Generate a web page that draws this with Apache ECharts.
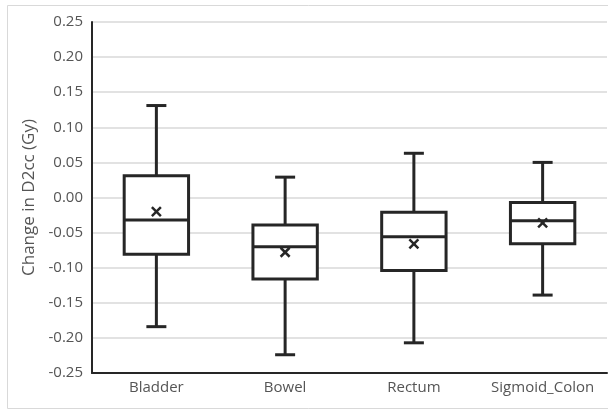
<!DOCTYPE html>
<html>
<head>
<meta charset="utf-8">
<script src="https://cdn.jsdelivr.net/npm/echarts@6/dist/echarts.min.js"></script>
<style>
  html, body { margin: 0; padding: 0; background: #fff; }
  #chart { width: 608px; height: 411px; }
</style>
</head>
<body>
<div id="chart"></div>
<script>
// Organ categories and box statistics of the D2cc change (Gy)
const categories = ['Bladder', 'Bowel', 'Rectum', 'Sigmoid_Colon'];
const whiskerLow  = [-0.184, -0.224, -0.207, -0.139];
const quartile1   = [-0.081, -0.116, -0.104, -0.066];
const medians     = [-0.032, -0.070, -0.056, -0.033];
const quartile3   = [ 0.031, -0.039, -0.021, -0.007];
const whiskerHigh = [ 0.131,  0.029,  0.063,  0.050];
const means       = [-0.020, -0.078, -0.066, -0.036];

const yMin = -0.25, yMax = 0.25, yStep = 0.05;

const boxData = categories.map((c, i) => [
  i, whiskerLow[i], quartile1[i], medians[i], quartile3[i], whiskerHigh[i], means[i]
]);

const INK = '#262626';
const TEXT = '#555555';
const FONT = '"Open Sans", sans-serif';

function renderBox(params, api) {
  const i = api.value(0);
  const cx = api.coord([i, 0])[0];
  const band = api.size([1, 0])[0];
  const boxW = band * 0.5;
  const capW = 20;
  const y = k => api.coord([i, api.value(k)])[1];
  const yLow = y(1), yQ1 = y(2), yMed = y(3), yQ3 = y(4), yHigh = y(5), yMean = y(6);
  const line = { stroke: INK, lineWidth: 3, lineCap: 'butt' };
  const m = 4.5;
  return {
    type: 'group',
    children: [
      { type: 'line', shape: { x1: cx, y1: yHigh, x2: cx, y2: yQ3 }, style: line },
      { type: 'line', shape: { x1: cx, y1: yQ1, x2: cx, y2: yLow }, style: line },
      { type: 'line', shape: { x1: cx - capW / 2, y1: yHigh, x2: cx + capW / 2, y2: yHigh }, style: line },
      { type: 'line', shape: { x1: cx - capW / 2, y1: yLow, x2: cx + capW / 2, y2: yLow }, style: line },
      { type: 'rect', shape: { x: cx - boxW / 2, y: yQ3, width: boxW, height: yQ1 - yQ3 },
        style: { fill: '#fff', stroke: INK, lineWidth: 3 } },
      { type: 'line', shape: { x1: cx - boxW / 2, y1: yMed, x2: cx + boxW / 2, y2: yMed }, style: line },
      { type: 'line', shape: { x1: cx - m, y1: yMean - m, x2: cx + m, y2: yMean + m },
        style: { stroke: INK, lineWidth: 2.5 } },
      { type: 'line', shape: { x1: cx - m, y1: yMean + m, x2: cx + m, y2: yMean - m },
        style: { stroke: INK, lineWidth: 2.5 } }
    ]
  };
}

const chart = echarts.init(document.getElementById('chart'), null, { renderer: 'canvas' });
chart.setOption({
  animation: false,
  backgroundColor: '#fff',
  graphic: [{
    type: 'rect',
    shape: { x: 7.5, y: 5.5, width: 620, height: 403 },
    style: { fill: null, stroke: '#d9d9d9', lineWidth: 1 },
    silent: true,
    z: -10
  }],
  grid: { left: 92, right: 1, top: 22, bottom: 38 },
  xAxis: {
    type: 'category',
    data: categories,
    boundaryGap: true,
    axisTick: { show: false },
    axisLine: { onZero: false, lineStyle: { color: INK, width: 2 } },
    axisLabel: { color: TEXT, fontFamily: FONT, fontSize: 15, margin: 7, interval: 0 },
    splitLine: { show: false }
  },
  yAxis: {
    type: 'value',
    min: yMin,
    max: yMax,
    interval: yStep,
    name: 'Change in D2cc (Gy)',
    nameLocation: 'middle',
    nameGap: 54,
    nameTextStyle: { color: TEXT, fontFamily: FONT, fontSize: 17 },
    axisLine: { show: true, lineStyle: { color: INK, width: 2 } },
    axisTick: { show: false },
    axisLabel: {
      color: TEXT, fontFamily: FONT, fontSize: 15, margin: 9,
      formatter: v => (Math.abs(v) < 1e-9 ? 0 : v).toFixed(2)
    },
    splitLine: { lineStyle: { color: '#d9d9d9', width: 1.5 } }
  },
  series: [{
    type: 'custom',
    renderItem: renderBox,
    data: boxData,
    encode: { x: 0, y: [1, 2, 3, 4, 5, 6] },
    z: 5
  }]
});
</script>
</body>
</html>
